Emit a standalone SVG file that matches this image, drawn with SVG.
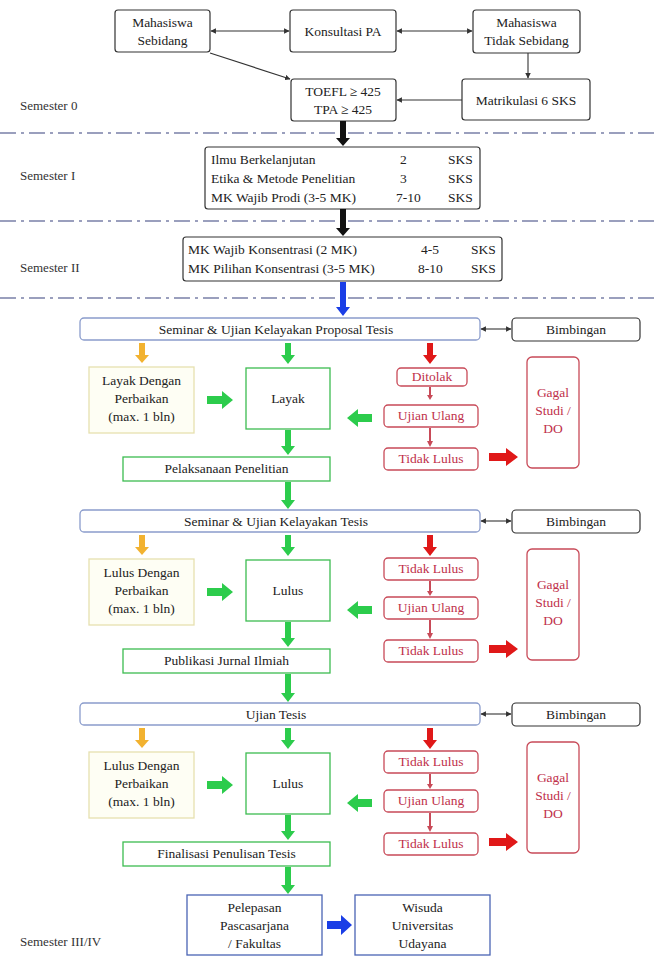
<svg xmlns="http://www.w3.org/2000/svg" width="659" height="963" viewBox="0 0 659 963" font-family="'Liberation Serif', 'Times New Roman', 'DejaVu Serif', serif">
<defs>
<style>
text{font-family:'Liberation Serif','Times New Roman','DejaVu Serif',serif;font-size:13.5px;fill:#222}
.c{text-anchor:middle}
.bk{fill:#fff;stroke:#333;stroke-width:1.2}
.sem{fill:#fff;stroke:#8a9ccc;stroke-width:1.3}
.yl{fill:#fefef4;stroke:#e6e0b0;stroke-width:1.3}
.gr{fill:#fff;stroke:#3cbc50;stroke-width:1.3}
.rd{fill:#fff;stroke:#c84a58;stroke-width:1.3}
.bl{fill:#fff;stroke:#4a64b4;stroke-width:1.3}
.rt{fill:#c0304a}
.sep{stroke:#7a80a8;stroke-width:1.3;stroke-dasharray:16 5 3 5;fill:none}
.ln{stroke:#333;stroke-width:1.1;fill:none}
.lbl{font-size:13px;fill:#333}
</style>
<marker id="ah" viewBox="0 0 10 10" refX="9" refY="5" markerWidth="5" markerHeight="5" orient="auto-start-reverse">
<path d="M0 0L10 5L0 10z" fill="#333"/>
</marker>
</defs>

<g id="separators">
<line class="sep" x1="0" y1="133" x2="659" y2="133"/>
<line class="sep" x1="0" y1="221" x2="659" y2="221"/>
<line class="sep" x1="0" y1="298" x2="659" y2="298"/>
</g>

<g id="labels">
<text class="lbl" x="20" y="110">Semester 0</text>
<text class="lbl" x="20" y="180">Semester I</text>
<text class="lbl" x="20" y="272">Semester II</text>
<text class="lbl" x="20" y="946">Semester III/IV</text>
</g>

<g id="n-sebidang"><rect class="bk" x="115" y="10" width="95" height="42" rx="3"/><text class="c" x="162.5" y="27">Mahasiswa</text><text class="c" x="162.5" y="45">Sebidang</text></g>
<g id="n-konsultasi"><rect class="bk" x="290" y="10" width="106" height="42" rx="3"/><text class="c" x="343" y="36">Konsultasi PA</text></g>
<g id="n-tidaksebidang"><rect class="bk" x="473" y="10" width="107" height="43" rx="3"/><text class="c" x="526.5" y="27">Mahasiswa</text><text class="c" x="526.5" y="45">Tidak Sebidang</text></g>
<g id="n-toefl"><rect class="bk" x="291" y="79" width="105" height="42" rx="3"/><text class="c" x="343" y="96">TOEFL ≥ 425</text><text class="c" x="343" y="114">TPA ≥ 425</text></g>
<g id="n-matrikulasi"><rect class="bk" x="462" y="79" width="128" height="41" rx="3"/><text class="c" x="526" y="105">Matrikulasi 6 SKS</text></g>

<g id="n-sem1"><rect class="bk" x="205" y="147" width="275" height="62" rx="3"/>
<text x="211" y="164">Ilmu Berkelanjutan</text><text x="400" y="164">2</text><text x="448" y="164">SKS</text>
<text x="211" y="183">Etika &amp; Metode Penelitian</text><text x="400" y="183">3</text><text x="448" y="183">SKS</text>
<text x="211" y="202">MK Wajib Prodi (3-5 MK)</text><text x="396" y="202">7-10</text><text x="448" y="202">SKS</text>
</g>
<g id="n-sem2"><rect class="bk" x="183" y="237" width="319" height="44" rx="3"/>
<text x="188" y="254">MK Wajib Konsentrasi (2 MK)</text><text x="421" y="254">4-5</text><text x="471" y="254">SKS</text>
<text x="188" y="273">MK Pilihan Konsentrasi (3-5 MK)</text><text x="418" y="273">8-10</text><text x="471" y="273">SKS</text>
</g>

<g id="n-seminar1"><rect class="sem" x="80" y="318" width="400" height="22" rx="4"/><text class="c" x="276" y="334">Seminar &amp; Ujian Kelayakan Proposal Tesis</text></g>
<g id="n-bimbingan1"><rect class="bk" x="512" y="318" width="128" height="23" rx="4"/><text class="c" x="576" y="334">Bimbingan</text></g>
<g id="n-layakdp"><rect class="yl" x="89" y="367" width="105" height="66"/><text class="c" x="141.5" y="385">Layak Dengan</text><text class="c" x="141.5" y="403">Perbaikan</text><text class="c" x="141.5" y="421">(max. 1 bln)</text></g>
<g id="n-layak"><rect class="gr" x="246" y="368" width="84" height="61"/><text class="c" x="288" y="403">Layak</text></g>
<g id="n-ditolak"><rect class="rd" x="397" y="368" width="70" height="18" rx="4"/><text class="c rt" x="432" y="381">Ditolak</text></g>
<g id="n-ujian1"><rect class="rd" x="384" y="405" width="94" height="22" rx="4"/><text class="c rt" x="431" y="420">Ujian Ulang</text></g>
<g id="n-tidaklulus1"><rect class="rd" x="384" y="448" width="94" height="22" rx="4"/><text class="c rt" x="431" y="463">Tidak Lulus</text></g>
<g id="n-gagal1"><rect class="rd" x="527" y="357" width="52" height="111" rx="5"/><text class="c rt" x="553" y="397">Gagal</text><text class="c rt" x="553" y="415">Studi /</text><text class="c rt" x="553" y="433">DO</text></g>
<g id="n-pelaksanaan"><rect class="gr" x="123" y="457" width="207" height="24"/><text class="c" x="226.5" y="473">Pelaksanaan Penelitian</text></g>

<g id="n-seminar2"><rect class="sem" x="80" y="510" width="400" height="22" rx="4"/><text class="c" x="276" y="526">Seminar &amp; Ujian Kelayakan Tesis</text></g>
<g id="n-bimbingan2"><rect class="bk" x="512" y="510" width="128" height="23" rx="4"/><text class="c" x="576" y="526">Bimbingan</text></g>
<g id="n-lulusdp2"><rect class="yl" x="89" y="559" width="105" height="66"/><text class="c" x="141.5" y="577">Lulus Dengan</text><text class="c" x="141.5" y="595">Perbaikan</text><text class="c" x="141.5" y="613">(max. 1 bln)</text></g>
<g id="n-lulus2"><rect class="gr" x="246" y="560" width="84" height="61"/><text class="c" x="288" y="595">Lulus</text></g>
<g id="n-tl2a"><rect class="rd" x="384" y="558" width="94" height="22" rx="4"/><text class="c rt" x="431" y="573">Tidak Lulus</text></g>
<g id="n-ujian2"><rect class="rd" x="384" y="597" width="94" height="22" rx="4"/><text class="c rt" x="431" y="612">Ujian Ulang</text></g>
<g id="n-tl2b"><rect class="rd" x="384" y="640" width="94" height="22" rx="4"/><text class="c rt" x="431" y="655">Tidak Lulus</text></g>
<g id="n-gagal2"><rect class="rd" x="527" y="549" width="52" height="111" rx="5"/><text class="c rt" x="553" y="589">Gagal</text><text class="c rt" x="553" y="607">Studi /</text><text class="c rt" x="553" y="625">DO</text></g>
<g id="n-publikasi"><rect class="gr" x="123" y="649" width="207" height="24"/><text class="c" x="226.5" y="665">Publikasi Jurnal Ilmiah</text></g>

<g id="n-ujiantesis"><rect class="sem" x="80" y="703" width="400" height="22" rx="4"/><text class="c" x="276" y="719">Ujian Tesis</text></g>
<g id="n-bimbingan3"><rect class="bk" x="512" y="703" width="128" height="23" rx="4"/><text class="c" x="576" y="719">Bimbingan</text></g>
<g id="n-lulusdp3"><rect class="yl" x="89" y="752" width="105" height="66"/><text class="c" x="141.5" y="770">Lulus Dengan</text><text class="c" x="141.5" y="788">Perbaikan</text><text class="c" x="141.5" y="806">(max. 1 bln)</text></g>
<g id="n-lulus3"><rect class="gr" x="246" y="753" width="84" height="61"/><text class="c" x="288" y="788">Lulus</text></g>
<g id="n-tl3a"><rect class="rd" x="384" y="751" width="94" height="22" rx="4"/><text class="c rt" x="431" y="766">Tidak Lulus</text></g>
<g id="n-ujian3"><rect class="rd" x="384" y="790" width="94" height="22" rx="4"/><text class="c rt" x="431" y="805">Ujian Ulang</text></g>
<g id="n-tl3b"><rect class="rd" x="384" y="833" width="94" height="22" rx="4"/><text class="c rt" x="431" y="848">Tidak Lulus</text></g>
<g id="n-gagal3"><rect class="rd" x="527" y="742" width="52" height="111" rx="5"/><text class="c rt" x="553" y="782">Gagal</text><text class="c rt" x="553" y="800">Studi /</text><text class="c rt" x="553" y="818">DO</text></g>
<g id="n-finalisasi"><rect class="gr" x="123" y="842" width="207" height="24"/><text class="c" x="226.5" y="858">Finalisasi Penulisan Tesis</text></g>

<g id="n-pelepasan"><rect class="bl" x="187" y="895" width="135" height="60"/><text class="c" x="254.5" y="912">Pelepasan</text><text class="c" x="254.5" y="930">Pascasarjana</text><text class="c" x="254.5" y="948">/ Fakultas</text></g>
<g id="n-wisuda"><rect class="bl" x="355" y="895" width="135" height="60"/><text class="c" x="422.5" y="912">Wisuda</text><text class="c" x="422.5" y="930">Universitas</text><text class="c" x="422.5" y="948">Udayana</text></g>

<g id="connectors">
<line class="ln" x1="211" y1="31" x2="289" y2="31" marker-start="url(#ah)" marker-end="url(#ah)"/>
<line class="ln" x1="397" y1="31" x2="472" y2="31" marker-start="url(#ah)" marker-end="url(#ah)"/>
<line class="ln" x1="210" y1="53" x2="290" y2="79" marker-end="url(#ah)"/>
<line class="ln" x1="528" y1="53" x2="528" y2="78" marker-end="url(#ah)"/>
<line class="ln" x1="462" y1="100" x2="397" y2="100" marker-end="url(#ah)"/>
<line class="ln" x1="511" y1="329" x2="481" y2="329" marker-start="url(#ah)" marker-end="url(#ah)"/>
<line class="ln" x1="511" y1="521" x2="481" y2="521" marker-start="url(#ah)" marker-end="url(#ah)"/>
<line class="ln" x1="511" y1="714" x2="481" y2="714" marker-start="url(#ah)" marker-end="url(#ah)"/>

<path fill="#111" d="M340 121H346V138H350L343 146L336 138H340Z"/>
<path fill="#111" d="M340 209H346V228H350L343 236L336 228H340Z"/>
<path fill="#1a3ee6" d="M340 282H346V307H350L343 316L336 307H340Z"/>

<g id="arrows-b1">
<path fill="#f2b230" d="M139 343H145V355H149L142 363L135 355H139Z"/>
<path fill="#2ccc4c" d="M285 343H291V355H295L288 364L281 355H285Z"/>
<path fill="#e01818" d="M427 343H433V355H437L430 364L423 355H427Z"/>
<path fill="#2ccc4c" d="M207 396H222V391L233 400L222 409V404H207Z"/>
<path fill="#2ccc4c" d="M372 414H358V409L347 418L358 427V422H372Z"/>
<path fill="#c84a58" d="M429 387H431V395H433L430 400L427 395H429Z"/>
<path fill="#c84a58" d="M429 428H431V441H433L430 447L427 441H429Z"/>
<path fill="#e01818" d="M489 453H506V448L518 457L506 466V461H489Z"/>
<path fill="#2ccc4c" d="M285 430H291V446H295L288 455L281 446H285Z"/>
<path fill="#2ccc4c" d="M285 482H291V500H295L288 509L281 500H285Z"/>
</g>
<g id="arrows-b2" transform="translate(0,192)">
<path fill="#f2b230" d="M139 343H145V355H149L142 363L135 355H139Z"/>
<path fill="#2ccc4c" d="M285 343H291V355H295L288 364L281 355H285Z"/>
<path fill="#e01818" d="M427 343H433V355H437L430 364L423 355H427Z"/>
<path fill="#2ccc4c" d="M207 396H222V391L233 400L222 409V404H207Z"/>
<path fill="#2ccc4c" d="M372 414H358V409L347 418L358 427V422H372Z"/>
<path fill="#c84a58" d="M429 389H431V399H433L430 404L427 399H429Z"/>
<path fill="#c84a58" d="M429 428H431V441H433L430 447L427 441H429Z"/>
<path fill="#e01818" d="M489 453H506V448L518 457L506 466V461H489Z"/>
<path fill="#2ccc4c" d="M285 430H291V446H295L288 455L281 446H285Z"/>
<path fill="#2ccc4c" d="M285 482H291V501H295L288 510L281 501H285Z"/>
</g>
<g id="arrows-b3" transform="translate(0,385)">
<path fill="#f2b230" d="M139 343H145V355H149L142 363L135 355H139Z"/>
<path fill="#2ccc4c" d="M285 343H291V355H295L288 364L281 355H285Z"/>
<path fill="#e01818" d="M427 343H433V355H437L430 364L423 355H427Z"/>
<path fill="#2ccc4c" d="M207 396H222V391L233 400L222 409V404H207Z"/>
<path fill="#2ccc4c" d="M372 414H358V409L347 418L358 427V422H372Z"/>
<path fill="#c84a58" d="M429 389H431V399H433L430 404L427 399H429Z"/>
<path fill="#c84a58" d="M429 428H431V441H433L430 447L427 441H429Z"/>
<path fill="#e01818" d="M489 453H506V448L518 457L506 466V461H489Z"/>
<path fill="#2ccc4c" d="M285 430H291V446H295L288 455L281 446H285Z"/>
<path fill="#2ccc4c" d="M285 482H291V500H295L288 509L281 500H285Z"/>
</g>
<path fill="#1a3ee6" d="M327 921H341V915L352 925L341 935V929H327Z"/>
</g>
</svg>
